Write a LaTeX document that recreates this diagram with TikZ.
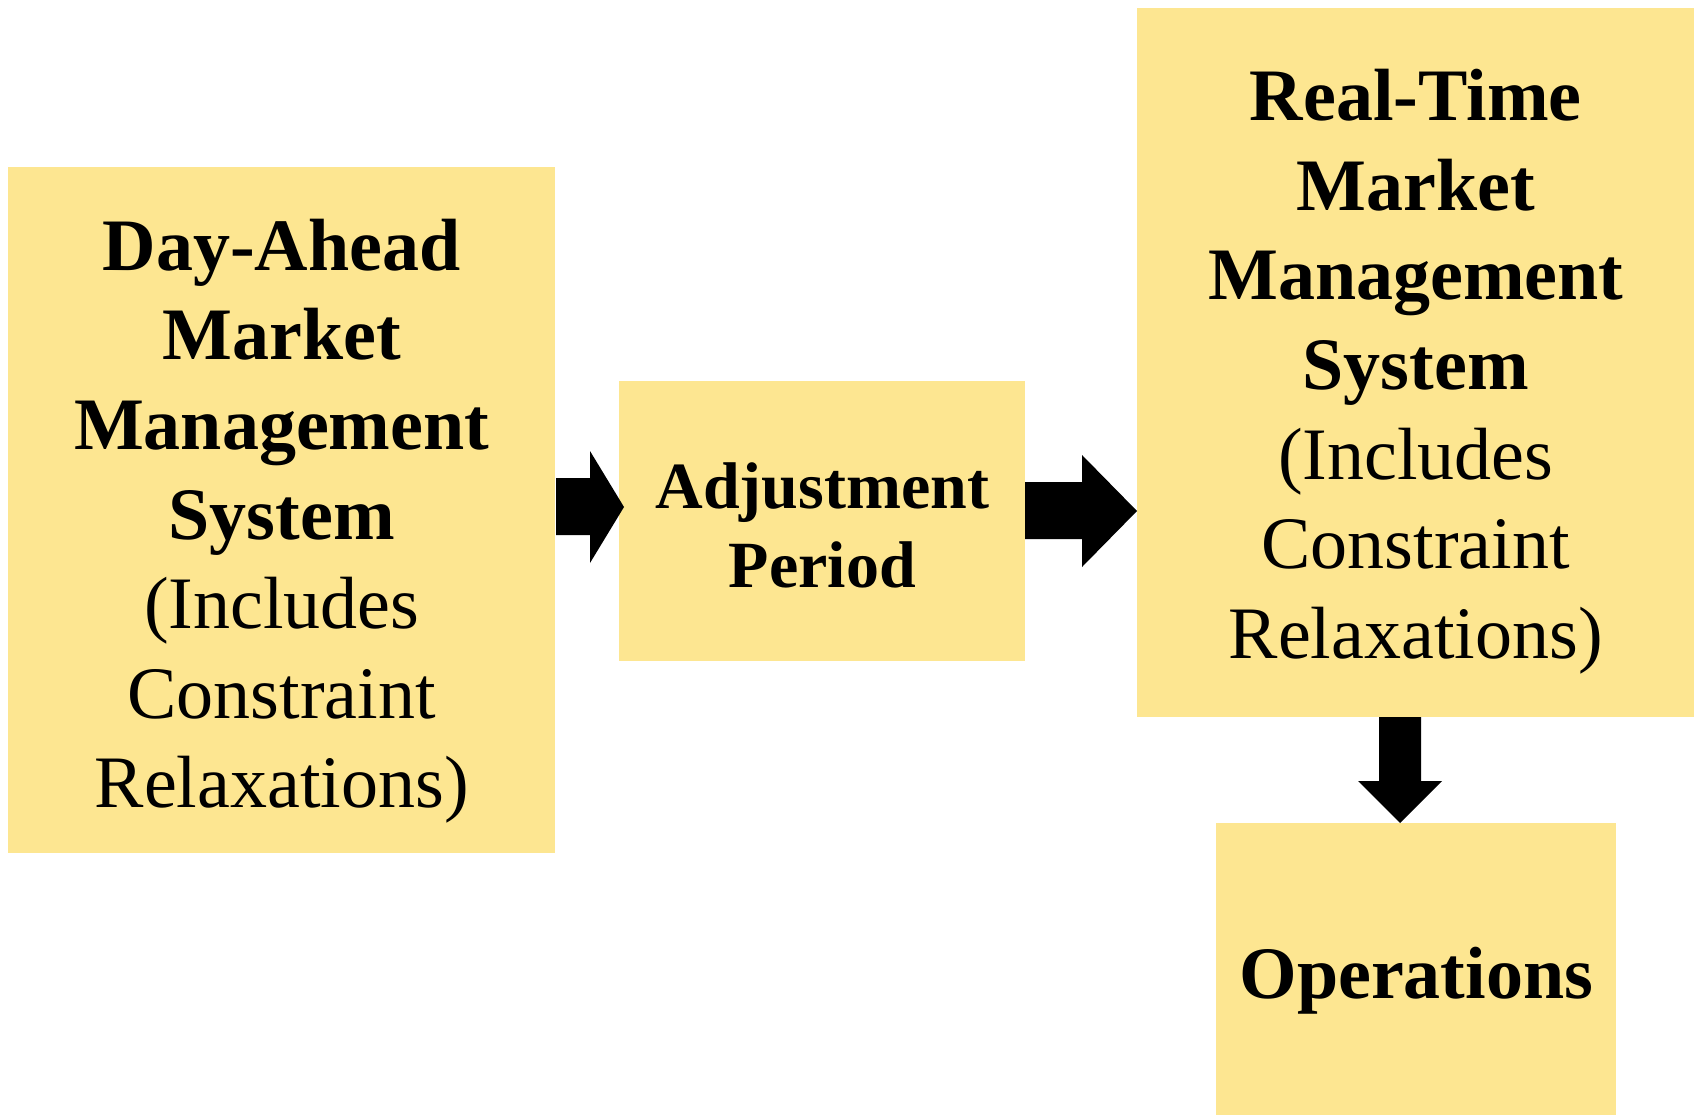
\documentclass[tikz,border=0pt]{standalone}
\usepackage{fontspec}
\setmainfont{Liberation Serif}
\definecolor{boxyellow}{RGB}{253,230,145}
\begin{document}
\begin{tikzpicture}[x=1pt,y=-1pt,
  ybox/.style={fill=boxyellow, draw=none, inner sep=0pt, anchor=north west},
  btext/.style={inner sep=0pt, align=center},
  bigtext/.style={btext, font=\fontsize{74}{89.6}\selectfont},
  midtext/.style={btext, font=\fontsize{66}{79}\selectfont},
  blockarrow/.style={fill=black, draw=none}]
\useasboundingbox (0,0) rectangle (1694,1115);
\node[ybox, minimum width=547pt, minimum height=686pt] (da) at (8,167) {};
\node[bigtext] (dat) at ([yshift=-11pt]da.center)
  {\textbf{Day-Ahead}\\\textbf{Market}\\\textbf{Management}\\\textbf{System}\\(Includes\\Constraint\\Relaxations)};
\node[ybox, minimum width=406pt, minimum height=280pt] (adj) at (619,381) {};
\node[midtext] (adjt) at ([yshift=-4pt]adj.center)
  {\textbf{Adjustment}\\\textbf{Period}};
\node[ybox, minimum width=557pt, minimum height=709pt] (rt) at (1137,8) {};
\node[bigtext] (rtt) at ([yshift=-9pt]rt.center)
  {\textbf{Real-Time}\\\textbf{Market}\\\textbf{Management}\\\textbf{System}\\(Includes\\Constraint\\Relaxations)};
\node[ybox, minimum width=400pt, minimum height=292pt] (op) at (1216,823) {};
\node[bigtext] (opt) at ([yshift=-11pt]op.center) {\textbf{Operations}};
% block arrows
\fill[blockarrow] (556,478) -- (590,478) -- (590,451) -- (624,507) -- (590,563) -- (590,535) -- (556,535) -- cycle;
\fill[blockarrow] (1025,482) -- (1082,482) -- (1082,455) -- (1137,511) -- (1082,567) -- (1082,539) -- (1025,539) -- cycle;
\fill[blockarrow] (1379,717) -- (1421,717) -- (1421,781) -- (1442,781) -- (1400,823) -- (1358,781) -- (1379,781) -- cycle;
\end{tikzpicture}
\end{document}
